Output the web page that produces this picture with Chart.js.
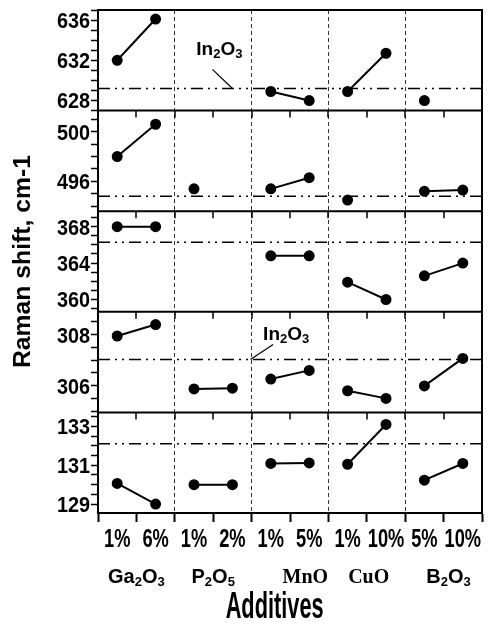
<!DOCTYPE html>
<html>
<head>
<meta charset="utf-8">
<script src="https://cdn.jsdelivr.net/npm/chart.js@4.4.1/dist/chart.umd.min.js"></script>
<style>
  html, body { margin: 0; padding: 0; background: #fff; }
  #wrap { width: 491px; height: 627px; }
</style>
</head>
<body>
<div id="wrap"><canvas id="raman"></canvas></div>
<script>
/* ── Data ─────────────────────────────────────── */
const contents = ['1%', '6%', '1%', '2%', '1%', '5%', '1%', '10%', '5%', '10%'];
const additives = ['Ga₂O₃', 'P₂O₅', 'MnO', 'CuO', 'B₂O₃'];

// band positions (cm-1) for each sample, null = band not seen
const band636 = [632.0, 636.1, null, null, 628.9, 628.0, 628.9, 632.7, 628.0, null];
const band497 = [498.0, 500.6, 495.4, null, 495.4, 496.3, 494.5, null, 495.2, 495.3];
const band365 = [368.0, 368.0, null, null, 364.8, 364.8, 361.9, 360.0, 362.6, 364.0];
const band307 = [307.95, 308.4, 305.87, 305.9, 306.26, 306.6, 305.8, 305.5, 305.99, 307.07];
const band131 = [130.06, 129.0, 130.0, 130.0, 131.09, 131.12, 131.05, 133.1, 130.23, 131.09];

// pure In2O3 positions, one per band (top to bottom)
const in2o3 = [629.2, 494.8, 366.3, 307.03, 132.11];

/* ── Layout bits ──────────────────────────────── */
const SANS = "'Liberation Sans', Arial, sans-serif";
const SERIF = "'Liberation Serif', 'Times New Roman', serif";

// note: a range that is a whole number of steps makes Chart.js start ticks at min
const panels = [
    { id: 'y1', data: band636, min: 627, max: 637, step: 1, base: 628, every: 4 },
    { id: 'y2', data: band497, min: 493.6, max: 501.7, step: 1, base: 496, every: 4 },
    { id: 'y3', data: band365, min: 358.65, max: 369.7, step: 1, base: 360, every: 4 },
    { id: 'y4', data: band307, min: 304.95, max: 308.9, step: 0.5, base: 306, every: 2 },
    { id: 'y5', data: band131, min: 128.54, max: 133.72, step: 0.5, base: 129, every: 2 },
];

const notes = [
    { axis: 'y1', at: [3.16, 633.2], from: [2.98, 631.1], to: [3.5, 629.2] },
    { axis: 'y4', at: [4.9, 308.06], from: [4.56, 307.62], to: [3.97, 307.03] },
];

const groupLabelX = [1, 3, 5.4, 7.05, 9.13];
const groupFont = [SANS, SANS, SERIF, SERIF, SANS];

/* ── Text helpers ─────────────────────────────── */
function drawFormula(ctx, text, cx, cy, size, family) {
    const runs = [];
    for (const ch of text) {
        const code = ch.charCodeAt(0);
        const sub = code >= 0x2080 && code <= 0x2089;
        const c = sub ? String.fromCharCode(code - 0x2080 + 48) : ch;
        const last = runs[runs.length - 1];
        if (last && last.sub === sub) last.s += c;
        else runs.push({ s: c, sub });
    }
    const subSize = Math.round(size * 0.66);
    let w = 0;
    runs.forEach((r) => {
        ctx.font = `bold ${r.sub ? subSize : size}px ${family}`;
        r.w = ctx.measureText(r.s).width;
        w += r.w;
    });
    let x = cx - w / 2;
    const base = cy + size * 0.36;
    ctx.textAlign = 'left';
    ctx.textBaseline = 'alphabetic';
    runs.forEach((r) => {
        ctx.font = `bold ${r.sub ? subSize : size}px ${family}`;
        ctx.fillText(r.s, x, r.sub ? base + size * 0.16 : base);
        x += r.w;
    });
}

function drawFitted(ctx, text, cx, cy, font, width, angle) {
    ctx.save();
    ctx.font = font;
    const k = width / ctx.measureText(text).width;
    ctx.translate(cx, cy);
    ctx.rotate(angle || 0);
    ctx.scale(k, 1);
    ctx.textAlign = 'center';
    ctx.textBaseline = 'middle';
    ctx.fillText(text, 0, 0);
    ctx.restore();
}

// narrow bold labels: plain Arial-like face squeezed sideways
function drawSqueezed(ctx, text, x, y, size, k, align) {
    ctx.save();
    ctx.font = `bold ${size}px ${SANS}`;
    ctx.translate(x, y);
    ctx.scale(k, 1);
    ctx.textAlign = align;
    ctx.textBaseline = 'alphabetic';
    ctx.fillText(text, 0, size * 0.36);
    ctx.restore();
}

/* ── Frame, labels, notes ─────────────────────── */
const framePlugin = {
    id: 'frame',
    afterDatasetsDraw(chart) {
        const { ctx, chartArea: a, scales } = chart;
        const xs = scales.x;
        ctx.save();
        ctx.strokeStyle = '#000';
        ctx.lineWidth = 2;
        ctx.beginPath();
        panels.forEach((p) => {
            const s = scales[p.id];
            ctx.moveTo(a.left, s.top);
            ctx.lineTo(a.right, s.top);
        });
        ctx.moveTo(a.right, a.top - 1);
        ctx.lineTo(a.right, a.bottom + 1);
        ctx.stroke();

        // short inward ticks under each panel divider
        ctx.lineWidth = 1.5;
        ctx.beginPath();
        panels.forEach((p, k) => {
            if (!k) return;
            const s = scales[p.id];
            for (let v = 1; v < 10; v++) {
                const px = Math.round(xs.getPixelForValue(v));
                ctx.moveTo(px, s.top);
                ctx.lineTo(px, s.top + 7);
            }
        });
        ctx.stroke();

        ctx.fillStyle = '#000';

        // tick labels taken from each scale's own ticks
        panels.forEach((p) => {
            const s = scales[p.id];
            s.ticks.forEach((t) => {
                if (!t.label) return;
                drawSqueezed(ctx, t.label, s.right - 8, s.getPixelForValue(t.value), 22, 0.9, 'right');
            });
        });
        xs.ticks.forEach((t) => {
            if (!t.label) return;
            drawSqueezed(ctx, t.label, xs.getPixelForValue(t.value), a.bottom + 24.5, 25, 0.73, 'center');
        });

        notes.forEach((n) => {
            const s = scales[n.axis];
            drawFormula(ctx, 'In₂O₃', xs.getPixelForValue(n.at[0]), s.getPixelForValue(n.at[1]), 19, SANS);
        });

        const gy = a.bottom + 63;
        additives.forEach((name, i) => {
            drawFormula(ctx, name, xs.getPixelForValue(groupLabelX[i]), gy, 20, groupFont[i]);
        });

        drawFitted(ctx, 'Additives', xs.getPixelForValue(4.6), a.bottom + 95, `bold 36px ${SANS}`, 98);
        drawFitted(ctx, 'Raman shift, cm-1', 24, (a.top + a.bottom) / 2, `bold 23px ${SANS}`, 213, -Math.PI / 2);
        ctx.restore();
    },
};

/* ── Datasets ─────────────────────────────────── */
const datasets = [];
panels.forEach((p, k) => {
    datasets.push({
        data: p.data.map((v, i) => ({ x: i + 0.5, y: v })),
        yAxisID: p.id,
        borderColor: '#000',
        backgroundColor: '#000',
        borderWidth: 2,
        pointRadius: 4.5,
        pointHoverRadius: 4.5,
        spanGaps: false,
        segment: {
            // only join the two contents of one additive
            borderColor: (c) => (c.p0DataIndex % 2 ? 'transparent' : '#000'),
        },
    });
    datasets.push({
        data: [{ x: 0, y: in2o3[k] }, { x: 10, y: in2o3[k] }],
        yAxisID: p.id,
        borderColor: '#000',
        borderWidth: 1.5,
        borderDash: [12, 5, 2, 5, 2, 5],
        pointRadius: 0,
    });
});
notes.forEach((n) => {
    datasets.push({
        data: [{ x: n.from[0], y: n.from[1] }, { x: n.to[0], y: n.to[1] }],
        yAxisID: n.axis,
        borderColor: '#000',
        borderWidth: 1.2,
        pointRadius: 0,
    });
});

/* ── Scales ───────────────────────────────────── */
const scales = {
    x: {
        type: 'linear',
        min: 0,
        max: 10,
        ticks: {
            display: false,
            stepSize: 0.5,
            autoSkip: false,
            callback: (v) => (Number.isInteger(v) ? '' : contents[Math.floor(v)]),
        },
        grid: {
            color: (c) => {
                const v = c.tick && c.tick.value;
                return v > 0 && v < 10 && v % 2 === 0 ? '#333' : 'transparent';
            },
            lineWidth: 1,
            tickLength: 9,
            tickWidth: 2,
            tickColor: (c) => (Number.isInteger(c.tick.value) ? '#000' : 'transparent'),
        },
        border: { color: '#000', width: 2, dash: [4, 3] },
        afterFit: (s) => {
            s.height = 114;
            s.paddingLeft = 0;
            s.paddingRight = 0;
        },
    },
};

// later scales are stacked on top, so add bottom panel first
panels.slice().reverse().forEach((p) => {
    scales[p.id] = {
        type: 'linear',
        position: 'left',
        stack: 'panels',
        stackWeight: 1,
        min: p.min,
        max: p.max,
        ticks: {
            display: false,
            stepSize: p.step,
            includeBounds: false,
            autoSkip: false,
            callback: (v) => {
                const q = (v - p.base) / p.every;
                return Math.abs(q - Math.round(q)) < 1e-6 ? String(Math.round(v)) : '';
            },
        },
        grid: { drawOnChartArea: false, tickLength: 7, tickWidth: 1.5, tickColor: '#000' },
        border: { color: '#000', width: 2 },
        afterFit: (s) => {
            s.width = 60;
            s.paddingTop = 0;
            s.paddingBottom = 0;
        },
    };
});

new Chart(document.getElementById('raman'), {
    type: 'line',
    data: { datasets },
    options: {
        responsive: true,
        maintainAspectRatio: false,
        animation: false,
        layout: { padding: { left: 38, right: 9, top: 10, bottom: 0 } },
        plugins: {
            legend: { display: false },
            tooltip: { enabled: false },
        },
        scales,
    },
    plugins: [framePlugin],
});
</script>
</body>
</html>
